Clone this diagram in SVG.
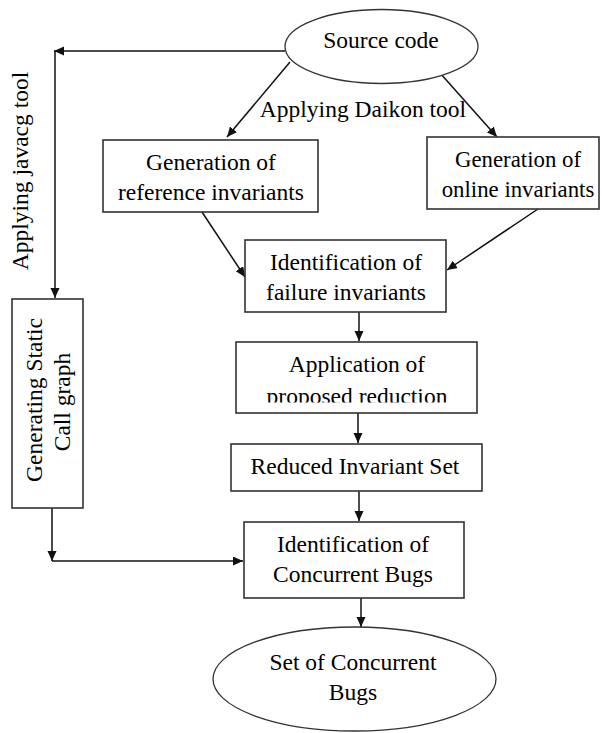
<svg xmlns="http://www.w3.org/2000/svg" width="602" height="733" viewBox="0 0 602 733">
<style>
text{font-family:"Liberation Serif","Times New Roman",serif;font-size:23.5px;fill:#000;text-anchor:middle}
.sm{font-size:22.8px}
.box{fill:#fff;stroke:#333;stroke-width:1.6}
.ell{fill:#fff;stroke:#333;stroke-width:1.3}
.con{fill:none;stroke:#111;stroke-width:1.5}
</style>
<defs>
<marker id="ah" markerUnits="userSpaceOnUse" markerWidth="11" markerHeight="10" refX="10" refY="4.5" orient="auto">
<path d="M0,0 L10,4.5 L0,9 z" fill="#111"/>
</marker>
<clipPath id="clipApp"><rect x="236" y="342" width="241" height="60.5"/></clipPath>
</defs>
<rect width="602" height="733" fill="#fff"/>
<g id="connectors">
<path class="con" d="M285,51 H54" marker-end="url(#ah)"/>
<path class="con" d="M55,51 V298" marker-end="url(#ah)"/>
<path class="con" d="M290,62 L227,137" marker-end="url(#ah)"/>
<path class="con" d="M440,73 L497,137" marker-end="url(#ah)"/>
<path class="con" d="M202,212 L245,277" marker-end="url(#ah)"/>
<path class="con" d="M538,209 L447,270" marker-end="url(#ah)"/>
<path class="con" d="M359,312 V341" marker-end="url(#ah)"/>
<path class="con" d="M358,413 V443" marker-end="url(#ah)"/>
<path class="con" d="M359,491 V521" marker-end="url(#ah)"/>
<path class="con" d="M52,508 V561" marker-end="url(#ah)"/>
<path class="con" d="M52,561 H243" marker-end="url(#ah)"/>
<path class="con" d="M361,598 V627" marker-end="url(#ah)"/>
</g>
<g id="label-daikon"><text x="363" y="117">Applying Daikon tool</text></g>
<g id="label-javacg"><text transform="translate(28,171) rotate(-90)">Applying javacg tool</text></g>
<g id="source-code">
<ellipse class="ell" cx="381.5" cy="46.5" rx="96.5" ry="37"/>
<text x="381" y="48">Source code</text>
</g>
<g id="reference-invariants">
<rect class="box" x="103" y="140" width="215" height="72"/>
<text x="211" y="170">Generation of</text>
<text x="211" y="200">reference invariants</text>
</g>
<g id="online-invariants">
<rect class="box" x="427" y="137" width="172" height="72"/>
<text class="sm" x="518" y="167">Generation of</text>
<text class="sm" x="518" y="197">online invariants</text>
</g>
<g id="failure-invariants">
<rect class="box" x="245" y="240" width="201" height="72"/>
<text x="346" y="270">Identification of</text>
<text x="346" y="300">failure invariants</text>
</g>
<g id="proposed-reduction">
<rect class="box" x="236" y="342" width="241" height="71"/>
<text x="357" y="372">Application of</text>
<text x="357" y="404" clip-path="url(#clipApp)">proposed reduction</text>
</g>
<g id="reduced-set">
<rect class="box" x="231" y="444" width="251" height="47"/>
<text x="355" y="474">Reduced Invariant Set</text>
</g>
<g id="static-call-graph">
<rect class="box" x="12" y="299" width="71" height="209"/>
<text transform="translate(42,400) rotate(-90)">Generating Static</text>
<text transform="translate(70,402) rotate(-90)">Call graph</text>
</g>
<g id="concurrent-bugs">
<rect class="box" x="244" y="522" width="220" height="76"/>
<text x="353" y="552">Identification of</text>
<text x="353" y="582">Concurrent Bugs</text>
</g>
<g id="set-concurrent-bugs">
<ellipse class="ell" cx="354.5" cy="679" rx="141.5" ry="52"/>
<text x="353" y="670">Set of Concurrent</text>
<text x="353" y="700">Bugs</text>
</g>
</svg>
